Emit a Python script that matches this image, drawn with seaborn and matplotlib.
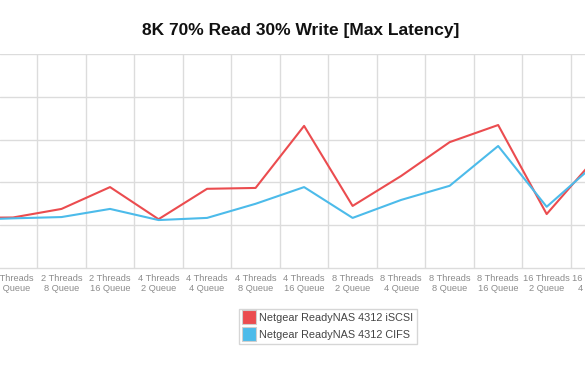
import numpy as np
import pandas as pd
import matplotlib
matplotlib.use("Agg")
import matplotlib.pyplot as plt
from matplotlib.lines import Line2D
import seaborn as sns

categories = [
    "2 Threads\n2 Queue", "2 Threads\n4 Queue", "2 Threads\n8 Queue", "2 Threads\n16 Queue",
    "4 Threads\n2 Queue", "4 Threads\n4 Queue", "4 Threads\n8 Queue", "4 Threads\n16 Queue",
    "8 Threads\n2 Queue", "8 Threads\n4 Queue", "8 Threads\n8 Queue", "8 Threads\n16 Queue",
    "16 Threads\n2 Queue", "16 Threads\n4 Queue",
]
iscsi = [1.17, 1.18, 1.38, 1.89, 1.14, 1.85, 1.87, 3.32, 1.45, 2.15, 2.94, 3.34, 1.26, 2.56]
cifs = [1.12, 1.16, 1.19, 1.38, 1.12, 1.17, 1.50, 1.89, 1.17, 1.59, 1.92, 2.85, 1.43, 2.43]
series_names = ["Netgear ReadyNAS 4312 iSCSI", "Netgear ReadyNAS 4312 CIFS"]
colors = ["#EB4C4F", "#4CBBEA"]
title = "8K 70% Read 30% Write [Max Latency]"

pos = np.arange(len(categories))
df = pd.concat([
    pd.DataFrame({"pos": pos, "value": iscsi, "series": series_names[0]}),
    pd.DataFrame({"pos": pos, "value": cifs, "series": series_names[1]}),
])

sns.set_style("white")
plt.rcParams["font.family"] = ["Liberation Sans", "DejaVu Sans"]

fig = plt.figure(figsize=(5.85, 3.72), dpi=100)
ax = fig.add_axes([0.0, 0.2796, 1.0, 0.5753])

sns.lineplot(data=df, x="pos", y="value", hue="series", palette=colors,
             linewidth=1.5, ax=ax, legend=False, sort=False)

label_kw = dict(fontsize=6.7, color="#8c8c8c", linespacing=1.2)
ax.set_yticks([1, 2, 3, 4, 5])
ax.set_yticklabels([])
ax.set_xticks(pos)
ax.set_xticklabels(categories, **label_kw)
ax.set_xticks(pos[:-1] + 0.5, minor=True)
ax.set_xlim(0.732, 12.79)
ax.set_ylim(0, 5)
ax.tick_params(axis="both", which="both", length=0)
ax.tick_params(axis="x", which="major", pad=4)
ax.grid(True, axis="y", which="major", color="#dcdcdc", linewidth=1)
ax.grid(True, axis="x", which="minor", color="#dcdcdc", linewidth=1)
ax.grid(False, axis="x", which="major")
ax.set_axisbelow(True)
for s in ["top", "left", "right"]:
    ax.spines[s].set_visible(False)
ax.spines["bottom"].set_color("#dcdcdc")
ax.spines["bottom"].set_linewidth(1)
ax.set_xlabel("")
ax.set_ylabel("")

# category label just past the right edge (partly visible, like the cropped reference)
first_lbl = ax.get_xticklabels()[1]
ax.annotate(categories[-1], xy=(pos[-1], 0), xycoords=("data", "axes fraction"),
            xytext=(0, -4), textcoords="offset points", ha="center", va="top",
            annotation_clip=False, **label_kw)

fig.text(0.5137, 0.919, title, ha="center", va="center",
         fontsize=12.5, fontweight="bold", color="#111111")

handles = [Line2D([], [], linestyle="none", marker="s", markersize=9.4,
                  markerfacecolor=c, markeredgecolor="#cfcfcf", markeredgewidth=0.8)
           for c in colors]
leg = fig.legend(handles, series_names, loc="center",
                 bbox_to_anchor=(0.5607, 0.1223), fontsize=7.8,
                 frameon=True, fancybox=False, edgecolor="#cccccc",
                 handlelength=1.0, handletextpad=0.45, borderpad=0.4,
                 labelspacing=0.6, borderaxespad=0)
leg.get_frame().set_linewidth(1)
for t in leg.get_texts():
    t.set_color("#444444")

fig.savefig("out.png", dpi=100)
